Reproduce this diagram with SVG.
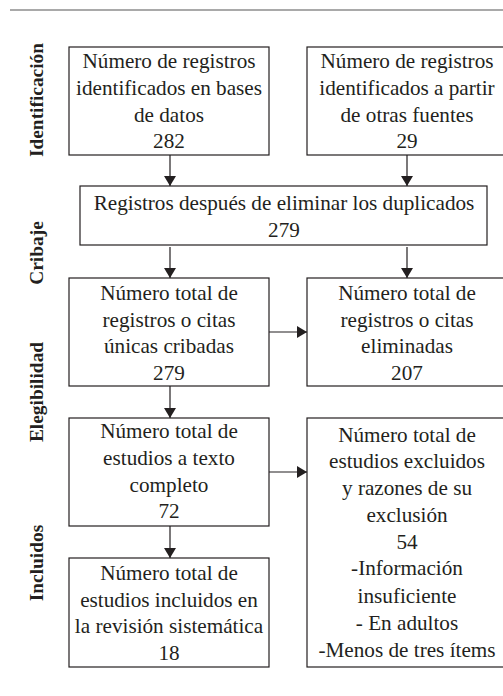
<svg xmlns="http://www.w3.org/2000/svg" width="503" height="696" viewBox="0 0 503 696">
<defs>
<style>
.box{fill:#fff;stroke:#231f20;stroke-width:1.2}
.t{font-size:21.2px;fill:#231f20;text-anchor:middle}
.s{font-size:19.4px;font-weight:bold;fill:#231f20;text-anchor:middle}
.c{stroke:#231f20;stroke-width:1.2;fill:none}
</style>
<marker id="ah" markerWidth="10" markerHeight="12" refX="10" refY="6" orient="auto" markerUnits="userSpaceOnUse">
<path d="M0,0 L10,6 L0,12 Z" fill="#231f20"/>
</marker>
</defs>
<rect width="503" height="696" fill="#fff"/>
<line x1="10" y1="10" x2="503" y2="10" stroke="#555" stroke-width="1.2"/>
<g id="labels">
<text class="s" font-family="Liberation Serif" transform="translate(43,100) rotate(-90)">Identificación</text>
<text class="s" font-family="Liberation Serif" transform="translate(43,253) rotate(-90)">Cribaje</text>
<text class="s" font-family="Liberation Serif" transform="translate(43,392) rotate(-90)">Elegibilidad</text>
<text class="s" font-family="Liberation Serif" transform="translate(43,563) rotate(-90)">Incluidos</text>
</g>
<g id="n1">
<rect class="box" x="69" y="47" width="200" height="108"/>
<text class="t" font-family="Liberation Serif" x="169" y="68">Número de registros</text>
<text class="t" font-family="Liberation Serif" x="169" y="95">identificados en bases</text>
<text class="t" font-family="Liberation Serif" x="169" y="121.5">de datos</text>
<text class="t" font-family="Liberation Serif" x="169" y="148">282</text>
</g>
<g id="n2">
<rect class="box" x="307" y="47" width="200" height="108"/>
<text class="t" font-family="Liberation Serif" x="407" y="68">Número de registros</text>
<text class="t" font-family="Liberation Serif" x="407" y="95">identificados a partir</text>
<text class="t" font-family="Liberation Serif" x="407" y="121.5">de otras fuentes</text>
<text class="t" font-family="Liberation Serif" x="407" y="148">29</text>
</g>
<g id="n3">
<rect class="box" x="80" y="186" width="407" height="59"/>
<text class="t" font-family="Liberation Serif" x="284" y="210">Registros después de eliminar los duplicados</text>
<text class="t" font-family="Liberation Serif" x="284" y="236.5">279</text>
</g>
<g id="n4">
<rect class="box" x="69" y="278" width="200" height="108"/>
<text class="t" font-family="Liberation Serif" x="169" y="300">Número total de</text>
<text class="t" font-family="Liberation Serif" x="169" y="326.5">registros o citas</text>
<text class="t" font-family="Liberation Serif" x="169" y="353">únicas cribadas</text>
<text class="t" font-family="Liberation Serif" x="169" y="379.5">279</text>
</g>
<g id="n5">
<rect class="box" x="307" y="278" width="200" height="108"/>
<text class="t" font-family="Liberation Serif" x="407" y="300">Número total de</text>
<text class="t" font-family="Liberation Serif" x="407" y="326.5">registros o citas</text>
<text class="t" font-family="Liberation Serif" x="407" y="353">eliminadas</text>
<text class="t" font-family="Liberation Serif" x="407" y="379.5">207</text>
</g>
<g id="n6">
<rect class="box" x="69" y="418" width="200" height="108"/>
<text class="t" font-family="Liberation Serif" x="169" y="438">Número total de</text>
<text class="t" font-family="Liberation Serif" x="169" y="465">estudios a texto</text>
<text class="t" font-family="Liberation Serif" x="169" y="491.5">completo</text>
<text class="t" font-family="Liberation Serif" x="169" y="518">72</text>
</g>
<g id="n7">
<rect class="box" x="307" y="418" width="200" height="249"/>
<text class="t" font-family="Liberation Serif" x="407" y="441.5">Número total de</text>
<text class="t" font-family="Liberation Serif" x="407" y="468">estudios excluidos</text>
<text class="t" font-family="Liberation Serif" x="407" y="495">y razones de su</text>
<text class="t" font-family="Liberation Serif" x="407" y="521.5">exclusión</text>
<text class="t" font-family="Liberation Serif" x="407" y="549">54</text>
<text class="t" font-family="Liberation Serif" x="407" y="575">-Información</text>
<text class="t" font-family="Liberation Serif" x="407" y="602.5">insuficiente</text>
<text class="t" font-family="Liberation Serif" x="407" y="629.5">- En adultos</text>
<text class="t" font-family="Liberation Serif" x="407" y="656.5">-Menos de tres ítems</text>
</g>
<g id="n8">
<rect class="box" x="69" y="558" width="200" height="109"/>
<text class="t" font-family="Liberation Serif" x="169" y="580">Número total de</text>
<text class="t" font-family="Liberation Serif" x="169" y="606.5">estudios incluidos en</text>
<text class="t" font-family="Liberation Serif" x="169" y="633">la revisión sistemática</text>
<text class="t" font-family="Liberation Serif" x="169" y="660">18</text>
</g>
<g id="connectors">
<line class="c" x1="170" y1="155" x2="170" y2="186" marker-end="url(#ah)"/>
<line class="c" x1="407" y1="155" x2="407" y2="186" marker-end="url(#ah)"/>
<line class="c" x1="170" y1="247" x2="170" y2="278" marker-end="url(#ah)"/>
<line class="c" x1="407" y1="247" x2="407" y2="278" marker-end="url(#ah)"/>
<line class="c" x1="269" y1="332" x2="307" y2="332" marker-end="url(#ah)"/>
<line class="c" x1="170" y1="386" x2="170" y2="418" marker-end="url(#ah)"/>
<line class="c" x1="269" y1="472" x2="307" y2="472" marker-end="url(#ah)"/>
<line class="c" x1="170" y1="526" x2="170" y2="558" marker-end="url(#ah)"/>
</g>
</svg>
